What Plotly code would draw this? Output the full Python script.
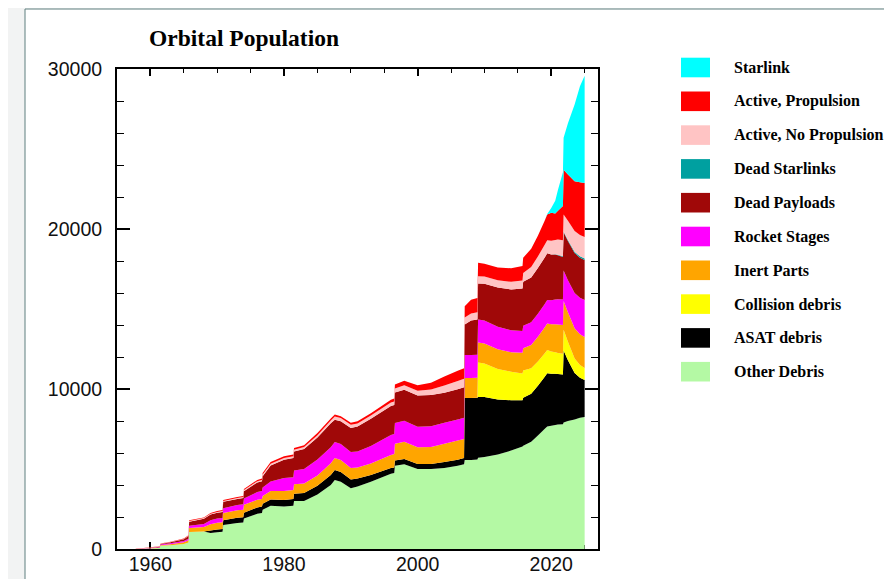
import plotly.graph_objects as go

# ---------------- data ----------------
years = [1957.8, 1959.0, 1960.0, 1961.4, 1961.5, 1963.0, 1965.0, 1965.7, 1965.8, 1968.0,
         1969.0, 1970.0, 1970.8, 1970.9, 1973.0, 1973.9, 1974.0, 1976.0, 1976.7, 1976.8,
         1978.0, 1980.0, 1981.4, 1981.5, 1983.0, 1985.0, 1987.0, 1987.6, 1988.5, 1990.0,
         1991.0, 1993.0, 1996.0, 1996.5, 1996.6, 1998.0, 2000.0, 2002.0, 2004.0, 2006.0,
         2006.95, 2007.05, 2008.0, 2008.95, 2009.05, 2010.0, 2012.0, 2014.0, 2015.7, 2015.8,
         2017.0, 2018.0, 2019.0, 2019.4, 2020.0, 2020.6, 2021.0, 2021.75, 2021.85, 2022.5,
         2023.5, 2024.3, 2025.0]

other_debris = [0, 10, 30, 60, 200, 240, 320, 400, 1060, 1100,
                1000, 1050, 1080, 1500, 1620, 1650, 1900, 2200, 2250, 2450,
                2700, 2650, 2700, 3000, 3000, 3400, 4000, 4310, 4200, 3800,
                3900, 4200, 4700, 4750, 5200, 5300, 5000, 5000, 5060, 5200,
                5300, 5560, 5560, 5600, 5700, 5750, 5900, 6150, 6400, 6450,
                6700, 7100, 7500, 7650, 7700, 7750, 7780, 7800, 7900, 8000,
                8100, 8200, 8250]
asat_debris = [0, 0, 0, 0, 0, 0, 0, 0, 0, 0,
               150, 170, 170, 300, 330, 330, 370, 400, 400, 380,
               400, 420, 420, 450, 500, 550, 620, 625, 620, 550,
               500, 420, 360, 350, 330, 330, 310, 310, 375, 380,
               380, 3880, 3880, 3850, 3800, 3750, 3450, 3150, 2900, 3000,
               3000, 3100, 3250, 3330, 3250, 3200, 3150, 3100, 4500, 3800,
               2900, 2500, 2310]
collision_debris = [0] * 44 + [2150, 2100, 1900, 1780, 1670, 1700,
                               1600, 1520, 1470, 1460, 1400, 1350, 1320, 1300, 1300, 1150,
                               900, 800, 750]
inert_parts = [0, 5, 15, 25, 40, 60, 100, 140, 250, 280,
               400, 420, 420, 450, 470, 480, 500, 480, 470, 480,
               520, 560, 560, 600, 600, 650, 740, 750, 750, 720,
               700, 720, 820, 830, 1050, 1080, 1050, 1070, 1150, 1200,
               1200, 1250, 1250, 1250, 1250, 1250, 1240, 1220, 1300, 1400,
               1450, 1550, 1620, 1660, 1700, 1750, 1780, 1800, 1800, 1850,
               1900, 1920, 1940]
rocket_stages = [5, 10, 20, 30, 40, 60, 80, 100, 150, 180,
                 250, 260, 270, 300, 330, 340, 380, 480, 500, 540,
                 600, 800, 810, 850, 900, 1000, 1000, 1000, 1000, 1000,
                 1000, 1100, 1250, 1250, 1300, 1300, 1280, 1290, 1310, 1320,
                 1330, 1435, 1435, 1440, 1440, 1430, 1400, 1370, 1360, 1400,
                 1420, 1440, 1460, 1460, 1500, 1550, 1580, 1600, 1900, 2000,
                 2200, 2280, 2310]
dead_payloads = [0, 10, 20, 30, 35, 60, 110, 170, 250, 330,
                 350, 370, 380, 400, 380, 390, 460, 600, 620, 700,
                 1000, 1150, 1200, 1200, 1250, 1370, 1500, 1400, 1420, 1500,
                 1550, 1700, 1800, 1820, 1900, 1950, 1950, 1950, 1870, 1880,
                 1900, 1900, 2150, 2200, 2250, 2300, 2450, 2550, 2650, 2750,
                 2800, 2850, 2900, 2920, 2850, 2800, 2750, 2650, 2400, 2450,
                 2500, 2500, 2500]
dead_starlinks = [0] * 54 + [10, 20, 30, 40, 50, 60, 80, 90, 100]
active_no_prop = [0, 10, 10, 10, 10, 10, 20, 25, 40, 40,
                  50, 50, 50, 50, 60, 60, 70, 80, 80, 100,
                  110, 110, 110, 110, 120, 140, 170, 190, 190, 200,
                  200, 200, 220, 220, 250, 270, 300, 350, 450, 520,
                  530, 450, 450, 450, 450, 450, 460, 480, 500, 550,
                  650, 720, 800, 820, 850, 900, 950, 1000, 1050, 1200,
                  1300, 1330, 1340]
active_prop = [5, 10, 15, 20, 20, 25, 30, 30, 50, 40,
               50, 60, 60, 60, 60, 60, 70, 80, 80, 100,
               110, 110, 110, 110, 120, 140, 130, 125, 120, 120,
               130, 150, 180, 190, 250, 280, 350, 420, 560, 640,
               660, 690, 850, 900, 850, 800, 800, 850, 900, 950,
               1150, 1300, 1500, 1600, 1750, 1650, 1800, 2150, 2800, 2900,
               3100, 3300, 3375]
starlink = [0] * 53 + [30, 300, 800, 1300, 2100, 2000, 3200, 4800, 6000, 6700]

# stacking order, bottom to top
series_names = ["Other Debris", "ASAT debris", "Collision debris", "Inert Parts",
                "Rocket Stages", "Dead Payloads", "Dead Starlinks",
                "Active, No Propulsion", "Active, Propulsion", "Starlink"]
series_values = [other_debris, asat_debris, collision_debris, inert_parts,
                 rocket_stages, dead_payloads, dead_starlinks,
                 active_no_prop, active_prop, starlink]
series_colors = ["#B4F9A4", "#000000", "#FFFF00", "#FFA500",
                 "#FF00FF", "#A00808", "#00A0A0",
                 "#FFC4C4", "#FF0000", "#00FFFF"]

x_tick_vals = [1960, 1980, 2000, 2020]
y_tick_vals = [0, 10000, 20000, 30000]

# ---------------- figure ----------------
OFF = 8                        # page body margin
W, H = 892 - OFF, 579 - OFF
L, R, T, B = 117 - OFF, 598 - OFF, 69 - OFF, 549 - OFF   # plot box in figure pixels


def px_x(p):
    """reference-page pixel x -> paper coordinate"""
    return (p - OFF - L) / (R - L)


def px_y(p):
    """reference-page pixel y -> paper coordinate"""
    return (B - (p - OFF)) / (B - T)


fig = go.Figure()
for name, vals, col in zip(series_names, series_values, series_colors):
    fig.add_trace(go.Scatter(
        x=years, y=vals, name=name, mode="none", stackgroup="one",
        fillcolor=col, hoverinfo="skip", showlegend=False))

tick_font = dict(family="Liberation Sans, Arial, sans-serif", size=19.5, color="#111111")

fig.update_xaxes(
    range=[1955, 2027], tickvals=x_tick_vals, ticktext=[str(v) for v in x_tick_vals],
    ticks="inside", ticklen=7, tickwidth=1.5, tickcolor="black",
    minor=dict(dtick=5, tick0=1955, ticks="inside", ticklen=4, tickwidth=1, tickcolor="black"),
    showline=True, linecolor="black", linewidth=2, mirror="ticks",
    showgrid=False, zeroline=False, tickfont=tick_font, layer="below traces",
    ticklabelstandoff=-3, automargin=False)
fig.update_yaxes(
    range=[0, 30000], tickvals=y_tick_vals, tickformat="d",
    ticks="inside", ticklen=13, tickwidth=1.5, tickcolor="black",
    minor=dict(dtick=2000, ticks="inside", ticklen=7, tickwidth=1, tickcolor="black"),
    showline=True, linecolor="black", linewidth=2, mirror="ticks",
    showgrid=False, zeroline=False, tickfont=tick_font, ticklabelstandoff=9,
    automargin=False)

shapes = [
    # outer frame of the page
    dict(type="rect", xref="paper", yref="paper", layer="below",
         x0=px_x(25), x1=px_x(905), y0=px_y(600), y1=px_y(9),
         fillcolor="white", line=dict(color="#5f7f7f", width=1)),
]
annotations = [
    dict(text="Orbital Population", xref="paper", yref="paper",
         x=px_x(147), y=px_y(38), xanchor="left", yanchor="middle", showarrow=False,
         font=dict(family="Liberation Serif, Times New Roman, serif", size=23.5, color="black",
                   weight="bold")),
]

# legend drawn as boxes + labels, top entry = top of the stack
legend_order = list(range(len(series_names)))[::-1]
for i, idx in enumerate(legend_order):
    cy = 67.5 + i * 33.8
    shapes.append(dict(type="rect", xref="paper", yref="paper",
                       x0=px_x(681), x1=px_x(710), y0=px_y(cy + 9.8), y1=px_y(cy - 9.8),
                       fillcolor=series_colors[idx], line=dict(width=0)))
    annotations.append(dict(text=series_names[idx], xref="paper", yref="paper",
                            x=px_x(732), y=px_y(cy), xanchor="left", yanchor="middle",
                            showarrow=False,
                            font=dict(family="Liberation Serif, Times New Roman, serif",
                                      size=16, color="black", weight="bold")))

fig.update_layout(
    width=W, height=H, autosize=False,
    margin=dict(l=L, r=W - R, t=T, b=H - B, pad=0, autoexpand=False),
    paper_bgcolor="#f2f3f3", plot_bgcolor="white",
    shapes=shapes, annotations=annotations, showlegend=False)

fig.write_html("out.html")
